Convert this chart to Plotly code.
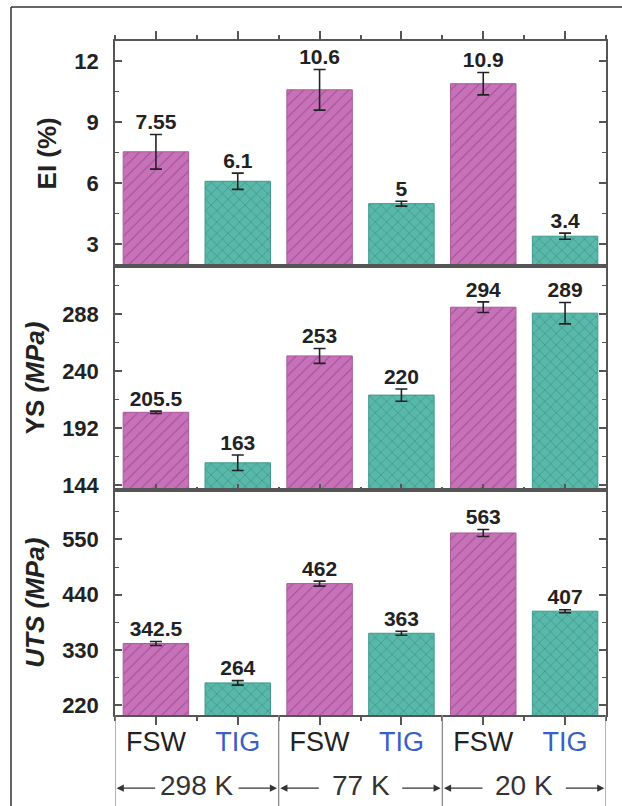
import plotly.graph_objects as go
from plotly.subplots import make_subplots

# ---- data -------------------------------------------------------------
methods = ["FSW", "TIG", "FSW", "TIG", "FSW", "TIG"]
temps = ["298 K", "77 K", "20 K"]

el = [7.55, 6.1, 10.6, 5, 10.9, 3.4]
el_err = [0.85, 0.4, 1.0, 0.12, 0.55, 0.15]

ys = [205.5, 163, 253, 220, 294, 289]
ys_err = [1.0, 6.5, 6.3, 5.2, 4.5, 9.0]

uts = [342.5, 264, 462, 363, 563, 407]
uts_err = [4.0, 4.5, 5.0, 4.0, 7.0, 3.0]

# ---- styling ----------------------------------------------------------
FONT = "Liberation Sans"
INK = "#222222"
AXIS = "#555555"
style = {
    "FSW": dict(bg="#c772b8", fg="#a04c94", line="#a85a9c", shape="/", label="#222222"),
    "TIG": dict(bg="#58b8a9", fg="#348578", line="#3f9a8c", shape="x", label="#3a5fc8"),
}

W, H = 622, 806
ML, MR, MT, MB = 115, 16, 41, 91
plot_w = W - ML - MR
plot_h = H - MT - MB

pos = list(range(len(methods)))

fig = make_subplots(rows=3, cols=1, shared_xaxes=True, vertical_spacing=0)

panels = [
    (el, el_err, 1),
    (ys, ys_err, 2),
    (uts, uts_err, 3),
]

for vals, errs, row in panels:
    for m in ["FSW", "TIG"]:
        idx = [i for i, mm in enumerate(methods) if mm == m]
        s = style[m]
        fig.add_trace(
            go.Bar(
                x=[pos[i] for i in idx],
                y=[vals[i] for i in idx],
                width=0.8,
                marker=dict(
                    color=s["bg"],
                    line=dict(color=s["line"], width=1),
                    pattern=dict(shape=s["shape"], bgcolor=s["bg"], fgcolor=s["fg"],
                                 size=8, solidity=0.12, fillmode="replace"),
                ),
                error_y=dict(type="data", array=[errs[i] for i in idx], visible=True,
                             color=INK, thickness=1.6, width=6),
                showlegend=False,
                hoverinfo="skip",
            ),
            row=row, col=1,
        )
    # value labels sit just above each error bar
    fig.add_trace(
        go.Scatter(
            x=pos,
            y=[v + e for v, e in zip(vals, errs)],
            text=[f"{v:g}" for v in vals],
            mode="text",
            textposition="top center",
            textfont=dict(family=FONT, size=21, color=INK, weight="bold"),
            showlegend=False,
            hoverinfo="skip",
            cliponaxis=False,
        ),
        row=row, col=1,
    )

# ---- axes -------------------------------------------------------------
yspec = {
    1: dict(range=[1.95, 13.0], tick0=0, dtick=3, title="EI (%)"),
    2: dict(range=[139.8, 329], tick0=144, dtick=48, title="YS <i>(MPa)</i>"),
    3: dict(range=[200, 648], tick0=220, dtick=110, title="<i>UTS (MPa)</i>"),
}
for row, sp in yspec.items():
    fig.update_yaxes(
        range=sp["range"], tickmode="linear", tick0=sp["tick0"], dtick=sp["dtick"],
        ticks="inside", ticklen=7, tickwidth=1.5, tickcolor=AXIS,
        minor=dict(ticks="inside", ticklen=4, tickwidth=1.2, tickcolor=AXIS,
                   dtick=sp["dtick"] / 2, tick0=sp["tick0"]),
        showline=True, linecolor=AXIS, linewidth=1.5, mirror="ticks",
        showgrid=False, zeroline=False,
        tickfont=dict(family=FONT, size=22, color=INK, weight="bold"),
        ticklabelstandoff=10,
        title=dict(text=sp["title"], standoff=10,
                   font=dict(family=FONT, size=26, color=INK, weight="bold")),
        row=row, col=1,
    )

xrange = [-0.5, len(methods) - 0.5]
common_x = dict(range=xrange, showline=True, linecolor=AXIS, linewidth=1.5,
                mirror=True, showgrid=False, zeroline=False,
                tickmode="array", tickvals=pos, tickcolor=AXIS, tickwidth=1.5)

# top panel: ticks on the upper frame, pointing outward
fig.update_xaxes(**common_x, side="top", ticks="outside", ticklen=8,
                 minor=dict(ticks="outside", ticklen=4, tickcolor=AXIS, tick0=0.5, dtick=1),
                 showticklabels=False, row=1, col=1)
fig.update_xaxes(**common_x, ticks="inside", ticklen=7,
                 minor=dict(ticks="inside", ticklen=4, tickcolor=AXIS, tick0=0.5, dtick=1),
                 showticklabels=False, row=2, col=1)
fig.update_xaxes(**common_x, ticks="outside", ticklen=8,
                 minor=dict(ticks="outside", ticklen=4, tickcolor=AXIS, tick0=0.5, dtick=1),
                 showticklabels=True, ticklabelstandoff=-6,
                 ticktext=[f"<span style='color:{style[m]['label']}'>{m}</span>" for m in methods],
                 tickfont=dict(family=FONT, size=27, color=INK),
                 row=3, col=1)

# ---- temperature groups below the category labels ---------------------
panel_h = plot_h / 3
sep_bottom = -(MB + 2) / panel_h
arrow_y = -70 / panel_h
shapes = []
n_groups = len(temps)
per = len(methods) // n_groups
for g in range(n_groups + 1):
    xe = g * per - 0.5
    shapes.append(dict(type="line", xref="x3", yref="y3 domain",
                       x0=xe, x1=xe, y0=0, y1=sep_bottom,
                       line=dict(color="#8a8a8a", width=1.3)))

annotations = []
for g, t in enumerate(temps):
    left = g * per - 0.5
    right = left + per
    centre = (left + right) / 2
    annotations.append(dict(xref="x3", yref="y3 domain", x=centre, y=arrow_y,
                            text=t, showarrow=False, yanchor="middle",
                            font=dict(family=FONT, size=28, color="#333333")))
    for edge, off in [(left + 0.02, 40), (right - 0.02, -40)]:
        annotations.append(dict(xref="x3", yref="y3 domain", x=edge, y=arrow_y - 0.014,
                                ax=off, ay=0, text="", showarrow=True,
                                arrowhead=2, arrowsize=1.1, arrowwidth=1.3,
                                arrowcolor="#333333"))

# outer frame (left and top edges of the figure border)
fx = (11 - ML) / plot_w
fy = 1 + (MT - 7) / plot_h
shapes.append(dict(type="line", xref="paper", yref="paper", x0=fx, x1=fx,
                   y0=-0.2, y1=fy, line=dict(color="#333333", width=1.5)))
shapes.append(dict(type="line", xref="paper", yref="paper", x0=fx, x1=1.1,
                   y0=fy, y1=fy, line=dict(color="#333333", width=1.5)))

fig.update_layout(
    width=W, height=H,
    margin=dict(l=ML, r=MR, t=MT, b=MB),
    plot_bgcolor="white", paper_bgcolor="white",
    barmode="overlay",
    showlegend=False,
    shapes=shapes,
    annotations=annotations,
    font=dict(family=FONT, color=INK),
)

fig.write_html("out.html")
